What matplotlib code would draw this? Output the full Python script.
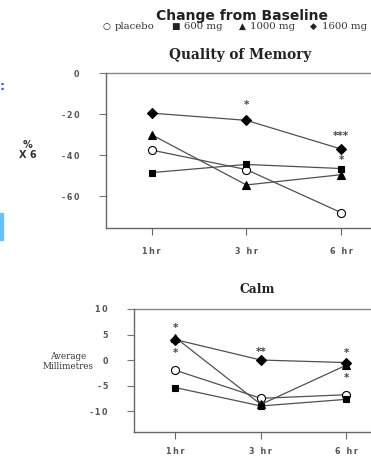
#! /bin/env python3

''' Change from baseline: quality of memory and calm '''

import matplotlib.pyplot as plt
from matplotlib.patches import Rectangle

times = ['1hr', '3 hr', '6 hr']
x_pos = [0, 1, 2]

groups = ['placebo', '600 mg', '1000 mg', '1600 mg']
group_symbols = ['\u25cb', '\u25a0', '\u25b2', '\u25c6']

# Quality of Memory (% x 6)
memory_placebo = [-37.5, -47, -68]
memory_600 = [-48.5, -44.5, -46.5]
memory_1000 = [-30, -54.5, -49.5]
memory_1600 = [-19.5, -23, -37]
memory_yticks = [0, -20, -40, -60]
memory_stars = [(1, -15.5, '*'), (2, -30.5, '***'), (2, -42.5, '*')]

# Calm (average millimetres)
calm_placebo = [-2, -7.5, -6.8]
calm_600 = [-5.4, -9, -7.7]
calm_1000 = [4.4, -8.7, -1]
calm_1600 = [4, 0, -0.5]
calm_yticks = [10, 5, 0, -5, -10]
calm_stars = [(0, 6.2, '*'), (0, 1.3, '*'), (1, 1.5, '**'), (2, 1.3, '*'), (2, -3.6, '*')]

LINE = '#505050'
TICK_FONT = {'fontsize': 5.8, 'color': '#555555', 'family': 'DejaVu Sans',
             'fontweight': 'bold'}


def spaced(label):
    return '\u2009'.join(label)


def draw_series(axis, series):
    styles = [('o', 'white', 5.8), ('s', 'black', 4.6), ('^', 'black', 5.4), ('D', 'black', 4.8)]
    for values, (marker, face, size) in zip(series, styles):
        axis.plot(x_pos, values, color=LINE, linewidth=0.9, marker=marker,
                  markersize=size, markerfacecolor=face, markeredgecolor='black',
                  markeredgewidth=0.8, zorder=3)


def style_axis(axis, yticks, top_value):
    for side in ['top', 'right']:
        axis.spines[side].set_visible(False)
    for side in ['left', 'bottom']:
        axis.spines[side].set_color('#666666')
        axis.spines[side].set_linewidth(1.0)
    axis.axhline(top_value, xmin=0, xmax=1.0, color='#888888',
                 linewidth=1.0, clip_on=False)
    axis.set_yticks(yticks)
    axis.set_yticklabels([spaced(str(v)) for v in yticks], **TICK_FONT)
    axis.set_xticks(x_pos)
    axis.set_xticklabels([spaced(t) for t in times], **TICK_FONT)
    axis.tick_params(axis='y', length=5, width=0.8, color='#777777', pad=14)
    axis.tick_params(axis='x', length=5, width=0.8, color='#666666', pad=9)


def _main():
    fig = plt.figure(figsize=(3.71, 4.57), dpi=100)

    # top panel
    ax1 = fig.add_axes([0.2857, 0.501, 0.74, 0.339])
    draw_series(ax1, [memory_placebo, memory_600, memory_1000, memory_1600])
    style_axis(ax1, memory_yticks, 0)
    ax1.set(xlim=(-0.48, 2.415), ylim=(-75.5, 0))
    for xi, yv, txt in memory_stars:
        ax1.text(xi, yv, txt, ha='center', va='center', fontsize=7.5,
                 color='#444444', family='DejaVu Sans', fontweight='bold')

    # bottom panel
    ax2 = fig.add_axes([0.362, 0.0547, 0.665, 0.2692])
    draw_series(ax2, [calm_placebo, calm_600, calm_1000, calm_1600])
    style_axis(ax2, calm_yticks, 10)
    ax2.set(xlim=(-0.48, 2.405), ylim=(-14.1, 10))
    ax2.tick_params(axis='x', pad=6)
    for xi, yv, txt in calm_stars:
        ax2.text(xi, yv, txt, ha='center', va='center', fontsize=7.5,
                 color='#444444', family='DejaVu Sans', fontweight='bold')

    # titles and labels
    fig.text(0.652, 0.966, 'Change from Baseline', ha='center', va='center',
             fontsize=10, fontweight='bold', family='DejaVu Sans', color='#222222')

    # legend line, one entry after another
    symbol_x = [0.286, 0.474, 0.653, 0.846]
    for sx, sym, name in zip(symbol_x, group_symbols, groups):
        fig.text(sx, 0.943, sym, ha='center', va='center', fontsize=6.5,
                 family='DejaVu Sans', color='#222222')
        fig.text(sx + 0.022, 0.943, name, ha='left', va='center', fontsize=7.3,
                 family='DejaVu Serif', color='#333333')

    fig.text(0.647, 0.879, 'Quality of Memory', ha='center', va='center',
             fontsize=9.8, fontweight='bold', family='DejaVu Serif', color='#222222')
    fig.text(0.075, 0.672, '%\nX 6', ha='center', va='center', fontsize=7,
             fontweight='bold', family='DejaVu Sans', color='#333333', linespacing=1.0)
    fig.text(0.693, 0.366, 'Calm', ha='center', va='center', fontsize=8.8,
             fontweight='bold', family='DejaVu Serif', color='#222222')
    fig.text(0.183, 0.21, 'Average\nMillimetres', ha='center', va='center', fontsize=6.3,
             family='DejaVu Serif', color='#333333', linespacing=1.15)

    # slide fragments at the left edge
    fig.patches.append(Rectangle((0, 0.475), 0.008, 0.06, transform=fig.transFigure,
                                 color='#66c2ff', figure=fig))
    fig.text(0.0, 0.81, ':', ha='left', va='center', fontsize=9, color='#3355ff',
             fontweight='bold')

    fig.savefig('out.png', dpi=100)


if __name__ == "__main__":
    _main()
